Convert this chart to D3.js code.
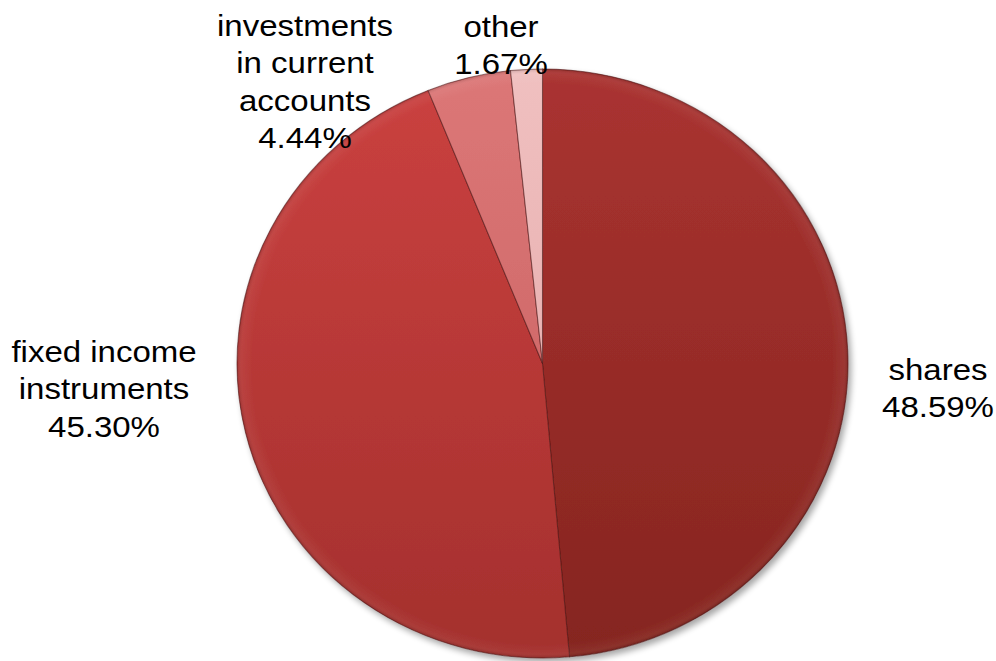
<!DOCTYPE html>
<html><head><meta charset="utf-8">
<script src="https://cdn.jsdelivr.net/npm/d3@7"></script>
<style>html,body{margin:0;padding:0;background:#fff;}svg{display:block;}</style>
</head><body>
<svg id="chart" width="996" height="661"></svg>
<script>
const categories = ["shares", "fixed income instruments", "investments in current accounts", "other"];
const values = [48.59, 45.30, 4.44, 1.67];
const labelLines = [["shares","48.59%"],["fixed income","instruments","45.30%"],["investments","in current","accounts","4.44%"],["other","1.67%"]];
const colorsTop = ["#aa3331", "#cb4140", "#dc7777", "#f0c0c0"];
const colorsBottom = ["#85251f", "#a4302d", "#c65e5e", "#e2a4a4"];

const svg = d3.select("#chart");
const cx = 542.5, cy = 363.5, ry = 294.5, rx = 305.5;
const defs = svg.append("defs");
const f = defs.append("filter").attr("id","shadow").attr("x","-10%").attr("y","-10%").attr("width","130%").attr("height","130%");
f.append("feGaussianBlur").attr("in","SourceAlpha").attr("stdDeviation",3).attr("result","b");
f.append("feOffset").attr("in","b").attr("dx",3).attr("dy",4).attr("result","o");
f.append("feComponentTransfer").attr("in","o").attr("result","o2").append("feFuncA").attr("type","linear").attr("slope",0.35);
const m = f.append("feMerge"); m.append("feMergeNode").attr("in","o2"); m.append("feMergeNode").attr("in","SourceGraphic");

categories.forEach((c,i)=>{
  const g = defs.append("linearGradient").attr("id","g"+i).attr("gradientUnits","userSpaceOnUse")
    .attr("x1",0).attr("y1",-ry).attr("x2",0).attr("y2",ry);
  g.append("stop").attr("offset",0).attr("stop-color",colorsTop[i]);
  g.append("stop").attr("offset",1).attr("stop-color",colorsBottom[i]);
});
const rg = defs.append("radialGradient").attr("id","bevel").attr("gradientUnits","userSpaceOnUse").attr("cx",0).attr("cy",0).attr("r",ry);
rg.append("stop").attr("offset",0.95).attr("stop-color","#fff").attr("stop-opacity",0);
rg.append("stop").attr("offset",0.985).attr("stop-color","#fff").attr("stop-opacity",0.05);
rg.append("stop").attr("offset",1).attr("stop-color","#000").attr("stop-opacity",0.15);

const pie = d3.pie().sort(null).value(d=>d);
const arcs = pie(values);
const arc = d3.arc().innerRadius(0).outerRadius(ry);
const g = svg.append("g").attr("transform",`translate(${cx},${cy}) scale(${rx/ry},1)`).attr("filter","url(#shadow)");
g.selectAll("path.s").data(arcs).join("path").attr("class","s")
  .attr("d",arc).attr("fill",(d,i)=>`url(#g${i})`)
  .attr("stroke","#4a1212").attr("stroke-opacity",0.55).attr("stroke-width",1);
g.selectAll("path.b").data(arcs).join("path").attr("class","b")
  .attr("d",arc).attr("fill","url(#bevel)").attr("pointer-events","none");

// label anchor positions (center x, first baseline y)
const labelPos = [[938,380],[104,362],[305,36],[501,37]];
const lineH = 37.5;
labelLines.forEach((lines,i)=>{
  const t = svg.append("text").attr("transform",`translate(${labelPos[i][0]},${labelPos[i][1]}) scale(1.1,1)`)
    .attr("text-anchor","middle").attr("font-family","Liberation Sans, Arial, sans-serif")
    .attr("font-size",30).attr("fill","#000");
  lines.forEach((l,j)=>t.append("tspan").attr("x",0).attr("y",j*lineH).text(l));
});
</script>
</body></html>
